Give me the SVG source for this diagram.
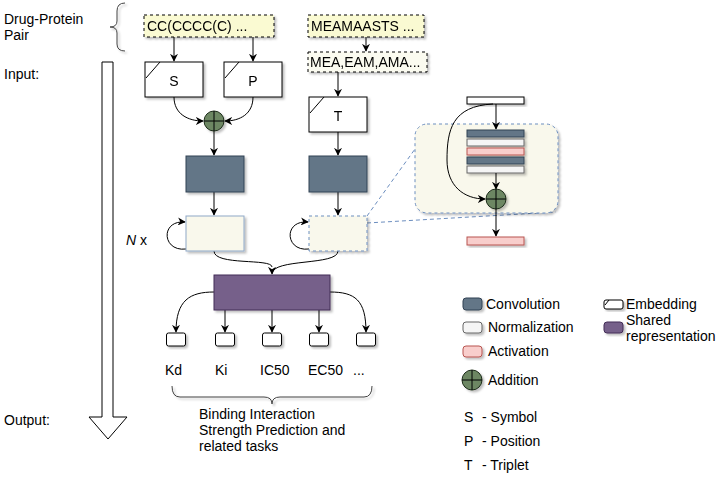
<svg xmlns="http://www.w3.org/2000/svg" width="727" height="482" viewBox="0 0 727 482">
<defs>
<style>
text{font-family:"Liberation Sans",Arial,sans-serif;font-size:14px;fill:#000}
.c{text-anchor:middle}
.box{fill:#fff;stroke:#000;stroke-width:1}
.conv{fill:#647687;stroke:#314354;stroke-width:1}
.norm{fill:#f5f5f5;stroke:#666;stroke-width:1}
.act{fill:#f8cecc;stroke:#b85450;stroke-width:1}
.shared{fill:#76608a;stroke:#432d57;stroke-width:1}
.add{fill:#6d8764;stroke:#1e2d1a;stroke-width:1}
.seq{fill:#fafad2;stroke:#000;stroke-width:1;stroke-dasharray:3 3}
.seq2{fill:#fbfbf0;stroke:#000;stroke-width:1;stroke-dasharray:3 3}
.res{fill:#f9f8ec;stroke:#8fa8c8;stroke-width:1}
.resd{fill:#f9f8ec;stroke:#6c8ebf;stroke-width:1;stroke-dasharray:3 3}
.ln{fill:none;stroke:#000;stroke-width:1}
.arr{fill:none;stroke:#000;stroke-width:1;marker-end:url(#ah)}
.zoomln{fill:none;stroke:#6c8ebf;stroke-width:1;stroke-dasharray:4 3}
.brace{fill:none;stroke:#444;stroke-width:1}
</style>
<marker id="ah" viewBox="0 0 10 10" refX="9" refY="5" markerWidth="8" markerHeight="8" markerUnits="userSpaceOnUse" orient="auto">
<path d="M0,0 L10,5 L0,10 L3,5 z" fill="#000"/>
</marker>
<filter id="sh" x="-20%" y="-20%" width="150%" height="150%">
<feDropShadow dx="2" dy="2" stdDeviation="1" flood-color="#000" flood-opacity="0.25"/>
</filter>
</defs>

<g id="labels-left">
<text x="4" y="24">Drug-Protein</text>
<text x="4" y="40">Pair</text>
<text x="4" y="79">Input:</text>
<text x="4" y="425">Output:</text>
<text x="126" y="245"><tspan font-style="italic">N</tspan> x</text>
</g>

<g id="time-arrow">
<polygon points="102,62 113,62 113,417 127,417 108,439 89,417 102,417" fill="#fff" stroke="#000" stroke-width="1"/>
</g>

<g id="top-brace" filter="url(#sh)">
<path class="brace" d="M125,3 Q117,3 117,11 L117,21 Q117,27 110,27 Q117,27 117,33 L117,44 Q117,51 125,51"/>
</g>

<g id="zoom-lines">
<path class="zoomln" d="M367,216 L415,149"/>
<path class="zoomln" d="M367,223 L556,212"/>
</g>

<g id="connectors">
<path class="arr" d="M174,37 L174,61"/>
<path class="arr" d="M253,37 L253,61"/>
<path class="arr" d="M366,37 L366,51"/>
<path class="arr" d="M338,72 L338,96"/>
<path class="arr" d="M174,97 C174,114 188,121 203,121"/>
<path class="arr" d="M253,97 C253,114 240,121 225,121"/>
<path class="arr" d="M214,131 L214,155"/>
<path class="arr" d="M338,132 L338,155"/>
<path class="arr" d="M214,192 L214,215"/>
<path class="arr" d="M338,192 L338,215"/>
<path class="arr" d="M186,249 C162,252 160,220 185,222"/>
<path class="arr" d="M309,249 C285,252 283,220 308,222"/>
<path class="ln" d="M214,251 C214,266 272,258 272,267"/>
<path class="arr" d="M338,251 C338,266 272,258 272,274"/>
<path class="arr" d="M214,292 C190,292 176,300 176,332"/>
<path class="arr" d="M330,292 C355,292 366,300 366,332"/>
<path class="arr" d="M225,310 L225,332"/>
<path class="arr" d="M272,310 L272,332"/>
<path class="arr" d="M319,310 L319,332"/>
</g>

<g id="drug-seq" filter="url(#sh)">
<rect class="seq" x="144" y="15" width="130" height="22"/>
<text x="147" y="31">CC(CCCC(C) ...</text>
</g>

<g id="protein-seq" filter="url(#sh)">
<rect class="seq" x="308" y="15" width="116" height="22"/>
<text x="311" y="31">MEAMAASTS ...</text>
</g>

<g id="triplets" filter="url(#sh)">
<rect class="seq2" x="308" y="52" width="119" height="20"/>
<text x="310" y="67">MEA,EAM,AMA...</text>
</g>

<g id="emb-S" filter="url(#sh)">
<rect class="box" x="145" y="62" width="58" height="35"/>
<path class="ln" d="M146,78 L160,62"/>
<text class="c" x="174" y="86">S</text>
</g>

<g id="emb-P" filter="url(#sh)">
<rect class="box" x="224" y="62" width="58" height="35"/>
<path class="ln" d="M225,78 L239,62"/>
<text class="c" x="253" y="86">P</text>
</g>

<g id="emb-T" filter="url(#sh)">
<rect class="box" x="309" y="97" width="58" height="35"/>
<path class="ln" d="M310,113 L324,97"/>
<text class="c" x="338" y="121">T</text>
</g>

<g id="add-SP" filter="url(#sh)">
<circle class="add" cx="214" cy="121" r="10"/>
<path class="ln" d="M204,121 L224,121 M214,111 L214,131"/>
</g>

<g id="conv-drug" filter="url(#sh)">
<rect class="conv" x="186" y="156" width="58" height="36"/>
</g>
<g id="conv-prot" filter="url(#sh)">
<rect class="conv" x="309" y="156" width="58" height="36"/>
</g>

<g id="res-drug" filter="url(#sh)">
<rect class="res" x="186" y="216" width="58" height="35"/>
</g>
<g id="res-prot" filter="url(#sh)">
<rect class="resd" x="309" y="216" width="58" height="35"/>
</g>

<g id="shared" filter="url(#sh)">
<rect class="shared" x="214" y="275" width="116" height="35"/>
</g>

<g id="outputs" filter="url(#sh)">
<rect class="box" x="166.5" y="333" width="19" height="13" rx="2"/>
<rect class="box" x="215.5" y="333" width="19" height="13" rx="2"/>
<rect class="box" x="262.5" y="333" width="19" height="13" rx="2"/>
<rect class="box" x="309.5" y="333" width="19" height="13" rx="2"/>
<rect class="box" x="356.5" y="333" width="19" height="13" rx="2"/>
</g>

<g id="output-labels">
<text x="165" y="375">Kd</text>
<text x="215" y="375">Ki</text>
<text x="260" y="375">IC50</text>
<text x="308" y="375">EC50</text>
<text x="353" y="375">...</text>
</g>

<g id="bottom-brace" filter="url(#sh)">
<path class="brace" d="M172,386 Q172,397 180,397 L264,397 Q272,397 272,404 Q272,397 280,397 L364,397 Q372,397 372,386"/>
</g>
<g id="task-label">
<text x="199" y="419">Binding Interaction</text>
<text x="199" y="435">Strength Prediction and</text>
<text x="199" y="451">related tasks</text>
</g>

<g id="res-block-detail">
<rect class="resd" x="415" y="124" width="143" height="89" rx="12" filter="url(#sh)"/>
<rect class="box" x="467" y="97" width="57" height="7" filter="url(#sh)"/>
<path class="arr" d="M496,104 L496,129"/>
<path class="arr" d="M493,104 C452,106 447,130 447,160 C447,186 464,199 485,199"/>
<g filter="url(#sh)">
<rect class="conv" x="467" y="130" width="57" height="7"/>
<rect class="norm" x="467" y="139" width="57" height="7"/>
<rect class="act" x="467" y="148" width="57" height="7"/>
<rect class="conv" x="467" y="157" width="57" height="7"/>
<rect class="norm" x="467" y="166" width="57" height="7"/>
</g>
<path class="arr" d="M496,173 L496,189"/>
<g filter="url(#sh)">
<circle class="add" cx="496" cy="199" r="10"/>
<path class="ln" d="M486,199 L506,199 M496,189 L496,209"/>
</g>
<path class="arr" d="M496,209 L496,236"/>
<rect class="act" x="467" y="237" width="57" height="8" filter="url(#sh)"/>
</g>

<g id="legend">
<rect class="conv" x="463" y="298" width="19" height="12" rx="3" filter="url(#sh)"/>
<text x="486" y="309">Convolution</text>
<rect class="norm" x="463" y="322" width="19" height="11" rx="3" filter="url(#sh)"/>
<text x="488" y="332">Normalization</text>
<rect class="act" x="463" y="346" width="19" height="11" rx="3" filter="url(#sh)"/>
<text x="488" y="356">Activation</text>
<g filter="url(#sh)">
<circle class="add" cx="472" cy="380" r="10"/>
<path class="ln" d="M462,380 L482,380 M472,370 L472,390"/>
</g>
<text x="488" y="385">Addition</text>
<text x="464" y="422">S</text><text x="482" y="422">- Symbol</text>
<text x="464" y="446">P</text><text x="482" y="446">- Position</text>
<text x="464" y="470">T</text><text x="482" y="470">- Triplet</text>
<rect class="box" x="604" y="300" width="19" height="9" rx="2" filter="url(#sh)"/>
<path class="ln" d="M605,305 L609,300"/>
<text x="626" y="309">Embedding</text>
<rect class="shared" x="604" y="322" width="19" height="11" rx="3" filter="url(#sh)"/>
<text x="626" y="325">Shared</text>
<text x="626" y="341">representation</text>
</g>
</svg>
